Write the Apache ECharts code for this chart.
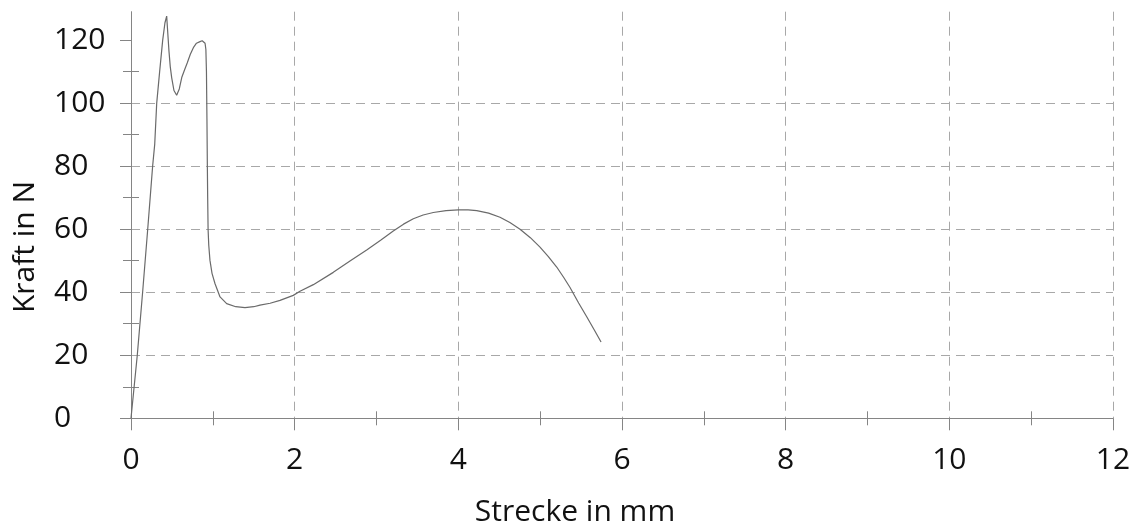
<!DOCTYPE html>
<html>
<head>
<meta charset="utf-8">
<script src="https://cdn.jsdelivr.net/npm/echarts@6/dist/echarts.min.js"></script>
<style>
html,body{margin:0;padding:0;background:#fff;}
#chart{width:1144px;height:529px;}
</style>
</head>
<body>
<div id="chart"></div>
<script>
// Data
var strecke = [0, 0.077, 0.142, 0.204, 0.265, 0.29, 0.314, 0.35, 0.387, 0.415, 0.436, 0.45, 0.464, 0.48, 0.497, 0.525, 0.558, 0.59, 0.62, 0.655, 0.688, 0.725, 0.762, 0.8, 0.843, 0.87, 0.892, 0.905, 0.915, 0.922, 0.928, 0.933, 0.937, 0.942, 0.95, 0.965, 0.99, 1.027, 1.088, 1.169, 1.28, 1.393, 1.5, 1.576, 1.7, 1.821, 1.983, 2.065, 2.228, 2.472, 2.676, 2.88, 3.05, 3.205, 3.33, 3.45, 3.57, 3.694, 3.85, 4.0, 4.12, 4.225, 4.37, 4.509, 4.63, 4.754, 4.88, 4.998, 5.1, 5.202, 5.29, 5.365, 5.47, 5.569, 5.66, 5.744];
var kraft   = [0, 20.1, 40, 59.9, 80.2, 87, 99.9, 110, 119.9, 125.5, 127.6, 122, 116.5, 111.5, 108.1, 104, 102.5, 104.5, 108.1, 110.6, 112.8, 115.5, 117.6, 119, 119.5, 119.8, 119.5, 119, 117, 110, 95, 80, 70, 60, 55, 50.1, 46, 42.7, 38.5, 36.4, 35.4, 35.1, 35.4, 35.9, 36.5, 37.4, 39, 40.3, 42.4, 46.3, 49.9, 53.4, 56.5, 59.4, 61.6, 63.3, 64.5, 65.3, 65.9, 66.1, 66.1, 65.9, 65.1, 63.8, 62.1, 60.0, 57.3, 54.3, 51.3, 48.0, 44.6, 41.5, 36.6, 32.2, 28.1, 24.2];
var xMajorTicks = [0, 2, 4, 6, 8, 10, 12];
var xMinorTicks = [1, 3, 5, 7, 9, 11];
var yMajorTicks = [0, 20, 40, 60, 80, 100, 120];
var yMinorTicks = [10, 30, 50, 70, 90, 110];
var xTitle = 'Strecke in mm';
var yTitle = 'Kraft in N';

var FONT = '"Open Sans", "Noto Sans", sans-serif';
var AXIS_COLOR = '#858585';
var GRID_COLOR = '#a8a8a8';
var TEXT_COLOR = '#111';

var data = strecke.map(function (x, i) { return [x, kraft[i]]; });

var X_MIN = 0, X_MAX = 12, Y_MIN = 0, Y_MAX = 129;

function baseX(extra) {
  var o = {
    type: 'value', min: X_MIN, max: X_MAX, interval: 2, position: 'bottom',
    axisLine: { show: false }, axisLabel: { show: false },
    axisTick: { show: false }, splitLine: { show: false }
  };
  for (var k in extra) o[k] = extra[k];
  return o;
}
function baseY(extra) {
  var o = {
    type: 'value', min: Y_MIN, max: Y_MAX, interval: 20, position: 'left',
    axisLine: { show: false }, axisLabel: { show: false },
    axisTick: { show: false }, splitLine: { show: false }
  };
  for (var k in extra) o[k] = extra[k];
  return o;
}

var chart = echarts.init(document.getElementById('chart'), null, { renderer: 'canvas' });
chart.setOption({
  animation: false,
  backgroundColor: '#fff',
  grid: { left: 131, right: 31, top: 11.7, bottom: 110.7, containLabel: false },
  xAxis: [
    baseX({
      axisLine: { show: true, lineStyle: { color: AXIS_COLOR, width: 1 } },
      axisTick: { show: true, customValues: xMajorTicks, length: 12, lineStyle: { color: AXIS_COLOR } },
      axisLabel: { show: true, customValues: xMajorTicks, margin: 27, fontSize: 30, fontFamily: FONT, color: TEXT_COLOR },
      splitLine: { show: true, showMinLine: false, lineStyle: { color: GRID_COLOR, type: [9, 6], width: 1 } }
    }),
    baseX({ axisTick: { show: true, inside: true, customValues: xMinorTicks, length: 7, lineStyle: { color: AXIS_COLOR } } }),
    baseX({ axisTick: { show: true, inside: false, customValues: xMinorTicks, length: 7, lineStyle: { color: AXIS_COLOR } } })
  ],
  yAxis: [
    baseY({
      axisLine: { show: true, lineStyle: { color: AXIS_COLOR, width: 1 } },
      axisTick: { show: true, customValues: yMajorTicks, length: 11, lineStyle: { color: AXIS_COLOR } },
      axisLabel: { show: true, customValues: yMajorTicks, margin: 77, align: 'left', fontSize: 30, fontFamily: FONT, color: TEXT_COLOR },
      splitLine: { show: true, showMinLine: false, showMaxLine: false, lineStyle: { color: GRID_COLOR, type: [9, 6], width: 1 } }
    }),
    baseY({ axisTick: { show: true, inside: true, customValues: yMinorTicks, length: 8, lineStyle: { color: AXIS_COLOR } } }),
    baseY({ axisTick: { show: true, inside: false, customValues: yMinorTicks, length: 8, lineStyle: { color: AXIS_COLOR } } })
  ],
  graphic: [
    { type: 'text', x: 575, y: 512, style: { text: xTitle, fontSize: 30, fontFamily: FONT, fill: TEXT_COLOR, align: 'center', verticalAlign: 'middle' } },
    { type: 'text', x: 25, y: 247, rotation: Math.PI / 2, style: { text: yTitle, fontSize: 30, fontFamily: FONT, fill: TEXT_COLOR, align: 'center', verticalAlign: 'middle' } }
  ],
  series: [{
    type: 'line',
    xAxisIndex: 0, yAxisIndex: 0,
    data: data,
    showSymbol: false,
    smooth: false,
    lineStyle: { color: '#6a6a6a', width: 1.2 },
    z: 5
  }]
});
</script>
</body>
</html>
